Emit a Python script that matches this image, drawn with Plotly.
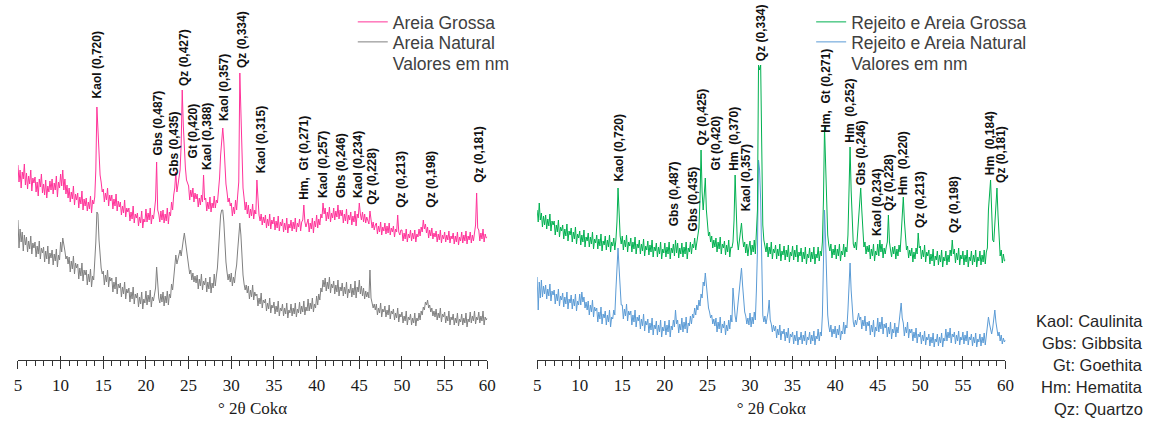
import plotly.graph_objects as go

# ---------------- data (intensity, arbitrary units; 0.125 deg steps, 5-60 deg) ----------------
TWO_THETA_START = 5.0
TWO_THETA_STEP = 0.125

areia_grossa = [
    195, 178, 190, 172, 188, 181, 196, 175,  # 5
    187, 171, 184, 176, 190, 169, 182, 177,  # 6
    183, 168, 178, 164, 181, 173, 186, 167,  # 7
    176, 165, 180, 162, 174, 168, 179, 170,  # 8
    181, 166, 177, 170, 184, 163, 178, 172,  # 9
    186, 174, 190, 170, 181, 166, 175, 162,  # 10
    172, 158, 168, 161, 174, 155, 166, 160,  # 11
    167, 152, 163, 156, 169, 150, 161, 154,  # 12
    162, 149, 158, 151, 164, 147, 160, 156,  # 13
    163, 190, 253, 232, 205, 185, 178, 168,  # 14
    171, 158, 167, 160, 172, 154, 165, 159,  # 15
    165, 151, 161, 154, 166, 149, 159, 153,  # 16
    158, 145, 154, 147, 160, 143, 152, 148,  # 17
    152, 139, 148, 141, 154, 137, 146, 142,  # 18
    147, 134, 143, 137, 149, 132, 141, 138,  # 19
    151, 138, 147, 140, 152, 136, 145, 141,  # 20
    150, 160, 198, 150, 146, 138, 149, 140,  # 21
    150, 137, 146, 139, 152, 136, 148, 144,  # 22
    158, 150, 165, 172, 188, 168, 175, 182,  # 23
    190, 215, 270, 235, 205, 192, 180, 176,  # 24
    174, 160, 170, 163, 172, 158, 167, 161,  # 25
    166, 153, 162, 155, 165, 158, 185, 160,  # 26
    162, 149, 158, 151, 163, 148, 157, 152,  # 27
    164, 152, 160, 157, 170, 182, 205, 222,  # 28
    232, 218, 192, 176, 168, 158, 162, 154,  # 29
    157, 144, 153, 146, 160, 150, 165, 178,  # 30
    287, 250, 200, 172, 162, 150, 158, 146,  # 31
    155, 142, 151, 144, 156, 141, 150, 146,  # 32
    180, 158, 145, 139, 146, 135, 143, 137,  # 33
    145, 132, 141, 134, 146, 131, 140, 136,  # 34
    143, 130, 139, 132, 144, 129, 138, 134,  # 35
    141, 128, 137, 130, 142, 127, 136, 132,  # 36
    140, 129, 138, 131, 142, 128, 137, 133,  # 37
    141, 129, 138, 140, 155, 138, 133, 137,  # 38
    141, 128, 137, 131, 142, 127, 139, 133,  # 39
    145, 132, 141, 135, 146, 142, 157, 146,  # 40
    152, 139, 148, 141, 153, 138, 147, 142,  # 41
    152, 140, 149, 143, 155, 141, 150, 144,  # 42
    150, 137, 146, 139, 151, 136, 145, 140,  # 43
    148, 135, 144, 138, 149, 134, 146, 142,  # 44
    157, 146, 140, 148, 138, 146, 137, 143,  # 45
    140, 136, 149, 137, 132, 138, 130, 135,  # 46
    137, 126, 134, 128, 138, 125, 133, 129,  # 47
    137, 126, 134, 127, 137, 125, 132, 128,  # 48
    134, 123, 131, 128, 145, 128, 125, 130,  # 49
    130, 119, 127, 121, 131, 118, 126, 122,  # 50
    130, 119, 127, 121, 130, 118, 126, 123,  # 51
    131, 124, 133, 128, 140, 131, 136, 127,  # 52
    133, 122, 130, 124, 132, 121, 127, 123,  # 53
    129, 118, 126, 120, 130, 117, 125, 121,  # 54
    128, 118, 125, 120, 129, 117, 124, 121,  # 55
    127, 116, 124, 118, 128, 115, 123, 119,  # 56
    128, 117, 125, 119, 129, 116, 124, 120,  # 57
    128, 117, 125, 119, 128, 135, 167, 132,  # 58
    130, 119, 127, 121, 131, 118, 126, 122,  # 59
    123,
]

areia_natural = [
    140, 112, 131, 118, 128, 109, 125, 115,  # 5
    123, 108, 119, 111, 124, 106, 117, 112,  # 6
    118, 103, 114, 106, 119, 101, 112, 107,  # 7
    113, 98, 109, 101, 114, 96, 107, 102,  # 8
    110, 95, 106, 99, 111, 93, 105, 100,  # 9
    118, 108, 122, 112, 109, 101, 104, 96,  # 10
    103, 88, 99, 91, 104, 86, 97, 92,  # 11
    96, 81, 92, 84, 97, 79, 90, 85,  # 12
    90, 75, 86, 78, 91, 73, 84, 80,  # 13
    95, 118, 148, 146, 120, 100, 92, 86,  # 14
    89, 75, 85, 78, 90, 73, 83, 79,  # 15
    82, 68, 78, 71, 83, 66, 76, 72,  # 16
    77, 63, 73, 66, 78, 61, 71, 67,  # 17
    72, 58, 68, 61, 73, 56, 66, 62,  # 18
    67, 53, 63, 56, 68, 51, 61, 57,  # 19
    69, 55, 65, 58, 70, 53, 63, 59,  # 20
    68, 72, 93, 70, 62, 57, 66, 58,  # 21
    68, 54, 64, 57, 69, 55, 66, 62,  # 22
    76, 70, 84, 92, 105, 96, 102, 108,  # 23
    110, 104, 115, 120, 127, 118, 110, 100,  # 24
    97, 86, 90, 80, 87, 78, 84, 77,  # 25
    85, 71, 81, 74, 86, 70, 79, 75,  # 26
    82, 68, 78, 71, 83, 67, 77, 72,  # 27
    86, 74, 84, 92, 110, 128, 145, 150,  # 28
    150, 138, 115, 98, 88, 80, 86, 78,  # 29
    87, 74, 83, 77, 88, 95, 110, 128,  # 30
    137, 125, 100, 85, 76, 70, 75, 67,  # 31
    74, 61, 70, 63, 75, 60, 68, 64,  # 32
    66, 54, 62, 56, 67, 52, 60, 57,  # 33
    61, 49, 57, 51, 62, 47, 55, 52,  # 34
    58, 46, 54, 48, 59, 44, 52, 49,  # 35
    56, 44, 52, 46, 57, 42, 50, 47,  # 36
    56, 44, 52, 46, 57, 43, 51, 47,  # 37
    58, 46, 54, 48, 59, 45, 53, 49,  # 38
    61, 49, 57, 51, 62, 48, 56, 52,  # 39
    64, 55, 66, 60, 72, 68, 80, 73,  # 40
    82, 69, 78, 71, 83, 67, 76, 72,  # 41
    79, 66, 75, 68, 80, 64, 73, 69,  # 42
    77, 64, 73, 66, 78, 62, 71, 67,  # 43
    76, 63, 72, 65, 79, 62, 73, 68,  # 44
    80, 66, 74, 64, 72, 61, 69, 63,  # 45
    68, 62, 90, 62, 57, 52, 56, 50,  # 46
    56, 45, 52, 47, 57, 43, 51, 48,  # 47
    54, 43, 50, 45, 55, 41, 49, 46,  # 48
    51, 40, 47, 42, 52, 38, 46, 43,  # 49
    48, 37, 44, 39, 49, 35, 43, 40,  # 50
    46, 35, 42, 37, 47, 34, 42, 39,  # 51
    47, 40, 49, 45, 53, 50, 58, 55,  # 52
    60, 52, 55, 48, 52, 44, 49, 43,  # 53
    51, 40, 47, 42, 52, 38, 46, 43,  # 54
    48, 37, 44, 39, 49, 35, 43, 40,  # 55
    46, 35, 42, 37, 47, 34, 41, 38,  # 56
    46, 35, 42, 37, 47, 33, 41, 38,  # 57
    48, 37, 44, 39, 49, 36, 43, 40,  # 58
    48, 37, 44, 39, 49, 35, 43, 40,  # 59
    42,
]

rejeito_areia_grossa = [
    150, 138, 157, 140, 147, 133, 144, 135,  # 5
    145, 131, 141, 134, 146, 129, 139, 135,  # 6
    139, 125, 135, 128, 140, 123, 133, 129,  # 7
    135, 121, 131, 124, 136, 119, 129, 125,  # 8
    132, 118, 128, 121, 133, 116, 126, 122,  # 9
    129, 115, 125, 118, 130, 113, 123, 119,  # 10
    127, 113, 123, 116, 128, 111, 121, 117,  # 11
    125, 111, 121, 114, 126, 109, 119, 115,  # 12
    124, 110, 120, 113, 125, 108, 118, 114,  # 13
    122, 110, 120, 138, 172, 140, 124, 116,  # 14
    124, 110, 120, 113, 125, 108, 118, 114,  # 15
    122, 108, 118, 111, 123, 106, 116, 112,  # 16
    120, 106, 116, 109, 121, 104, 114, 110,  # 17
    119, 105, 115, 108, 120, 103, 113, 109,  # 18
    117, 103, 113, 106, 118, 101, 111, 107,  # 19
    117, 103, 113, 106, 118, 101, 112, 107,  # 20
    116, 104, 120, 107, 117, 102, 112, 106,  # 21
    117, 103, 113, 106, 118, 101, 112, 108,  # 22
    118, 106, 116, 112, 122, 110, 118, 124,  # 23
    132, 160, 210, 168, 150, 165, 182, 150,  # 24
    135, 124, 128, 118, 124, 112, 120, 113,  # 25
    122, 108, 118, 111, 123, 106, 116, 112,  # 26
    119, 105, 115, 108, 120, 103, 113, 112,  # 27
    118, 140, 185, 138, 120, 110, 118, 124,  # 28
    137, 122, 113, 118, 107, 116, 104, 113,  # 29
    119, 105, 115, 108, 120, 106, 125, 150,  # 30
    295, 290, 295, 180, 135, 120, 115, 108,  # 31
    117, 103, 113, 106, 118, 101, 111, 107,  # 32
    115, 101, 111, 104, 116, 99, 109, 105,  # 33
    114, 100, 110, 103, 115, 98, 108, 104,  # 34
    114, 100, 110, 103, 115, 98, 108, 104,  # 35
    112, 98, 108, 101, 113, 96, 106, 102,  # 36
    112, 98, 108, 101, 113, 96, 106, 102,  # 37
    113, 99, 109, 104, 118, 160, 233, 200,  # 38
    150, 125, 115, 109, 116, 102, 111, 105,  # 39
    115, 101, 111, 104, 116, 99, 109, 105,  # 40
    116, 103, 113, 108, 125, 160, 213, 170,  # 41
    130, 116, 112, 118, 110, 125, 150, 165,  # 42
    172, 150, 125, 113, 118, 106, 114, 108,  # 43
    115, 101, 111, 104, 116, 99, 109, 105,  # 44
    116, 104, 120, 108, 116, 102, 112, 106,  # 45
    113, 118, 145, 118, 110, 103, 113, 106,  # 46
    114, 101, 111, 104, 115, 108, 125, 140,  # 47
    163, 140, 120, 110, 114, 102, 110, 104,  # 48
    112, 98, 108, 101, 112, 106, 127, 112,  # 49
    114, 101, 110, 103, 115, 98, 108, 104,  # 50
    110, 96, 106, 99, 111, 94, 104, 100,  # 51
    109, 95, 105, 98, 110, 93, 103, 99,  # 52
    109, 95, 105, 98, 110, 104, 120, 106,  # 53
    111, 97, 107, 100, 112, 95, 105, 101,  # 54
    109, 95, 105, 98, 110, 93, 103, 99,  # 55
    109, 95, 105, 98, 110, 93, 103, 99,  # 56
    109, 95, 105, 98, 110, 96, 108, 112,  # 57
    150, 165, 180, 150, 120, 118, 135, 155,  # 58
    172, 145, 118, 104, 110, 97, 106, 99,  # 59
    100,
]

rejeito_areia_natural = [
    83, 50, 78, 62, 80, 63, 74, 66,  # 5
    75, 61, 71, 64, 76, 59, 69, 65,  # 6
    70, 56, 66, 59, 71, 54, 64, 60,  # 7
    67, 53, 63, 56, 68, 51, 61, 57,  # 8
    65, 51, 61, 54, 66, 49, 59, 55,  # 9
    66, 55, 68, 58, 63, 52, 58, 50,  # 10
    59, 45, 55, 48, 60, 43, 53, 49,  # 11
    52, 38, 48, 41, 53, 36, 46, 42,  # 12
    49, 35, 45, 38, 50, 33, 43, 41,  # 13
    50, 45, 70, 95, 112, 92, 68, 55,  # 14
    55, 41, 51, 44, 56, 39, 49, 45,  # 15
    49, 35, 45, 38, 50, 33, 43, 39,  # 16
    45, 31, 41, 34, 46, 29, 39, 35,  # 17
    41, 27, 37, 30, 42, 25, 35, 31,  # 18
    39, 25, 35, 28, 40, 23, 33, 29,  # 19
    39, 25, 35, 28, 40, 23, 34, 30,  # 20
    40, 33, 50, 36, 40, 27, 36, 30,  # 21
    42, 28, 38, 31, 43, 27, 37, 34,  # 22
    44, 36, 46, 42, 52, 45, 55, 50,  # 23
    60, 54, 66, 62, 78, 74, 87, 75,  # 24
    60, 52, 48, 42, 45, 36, 41, 34,  # 25
    42, 28, 38, 31, 43, 27, 36, 32,  # 26
    39, 25, 35, 29, 40, 31, 45, 38,  # 27
    72, 52, 44, 38, 50, 58, 72, 85,  # 28
    92, 75, 58, 48, 44, 36, 42, 35,  # 29
    47, 33, 43, 36, 48, 40, 70, 110,  # 30
    200, 190, 160, 80, 45, 38, 44, 36,  # 31
    42, 48, 60, 40, 36, 28, 35, 29,  # 32
    34, 22, 31, 25, 35, 20, 29, 26,  # 33
    31, 19, 28, 22, 32, 17, 26, 23,  # 34
    28, 16, 25, 19, 29, 15, 23, 20,  # 35
    28, 16, 25, 19, 29, 15, 23, 20,  # 36
    28, 16, 25, 19, 29, 15, 24, 21,  # 37
    31, 19, 28, 24, 45, 90, 150, 120,  # 38
    70, 45, 34, 28, 35, 23, 31, 26,  # 39
    34, 22, 31, 25, 35, 20, 29, 26,  # 40
    38, 26, 35, 32, 50, 75, 97, 70,  # 41
    50, 38, 33, 40, 35, 42, 47, 40,  # 42
    43, 31, 40, 34, 44, 29, 38, 34,  # 43
    39, 25, 35, 28, 40, 23, 33, 29,  # 44
    42, 28, 38, 31, 43, 26, 36, 32,  # 45
    37, 23, 33, 26, 38, 21, 31, 27,  # 46
    37, 23, 33, 27, 38, 42, 57, 42,  # 47
    37, 24, 33, 27, 38, 22, 31, 27,  # 48
    31, 19, 28, 22, 32, 17, 26, 23,  # 49
    28, 16, 25, 19, 29, 15, 23, 20,  # 50
    26, 14, 23, 17, 27, 13, 21, 18,  # 51
    26, 14, 23, 17, 27, 13, 22, 19,  # 52
    31, 19, 28, 22, 32, 17, 26, 23,  # 53
    28, 16, 25, 19, 29, 15, 23, 20,  # 54
    28, 16, 25, 19, 29, 15, 23, 20,  # 55
    26, 14, 23, 17, 27, 13, 21, 18,  # 56
    26, 14, 23, 17, 27, 15, 24, 30,  # 57
    43, 36, 30, 26, 32, 40, 50, 38,  # 58
    32, 24, 28, 19, 25, 16, 22, 18,  # 59
    20,
]

two_theta = [TWO_THETA_START + i * TWO_THETA_STEP for i in range(len(areia_grossa))]

# peak labels: text, 2theta position, intensity at the label base
left_labels = ["Kaol (0,720)", "Gbs (0,487)", "Gbs (0,435)", "Qz (0,427)", "Gt (0,420)",
               "Kaol (0,388)", "Kaol (0,357)", "Qz (0,334)", "Kaol (0,315)", "Hm,  Gt (0,271)",
               "Kaol (0,257)", "Gbs (0,246)", "Kaol (0,234)", "Qz (0,228)", "Qz (0,213)",
               "Qz (0,198)", "Qz (0,181)"]
left_label_pos = [14.25, 21.4, 23.25, 24.4, 25.5, 27.1, 29.1, 31.2, 33.45, 38.5,
                  40.7, 42.8, 44.8, 46.4, 49.8, 53.3, 58.95]
left_label_int = [260, 203, 182, 272, 200, 188, 237, 290, 185, 158,
                  160, 160, 160, 153, 150, 150, 175]

right_labels = ["Kaol (0,720)", "Gbs (0,487)", "Gbs (0,435)", "Qz (0,425)", "Gt (0,420)",
                "Hm  (0,370)", "Kaol (0,357)", "Qz (0,334)", "Hm,  Gt (0,271)", "Hm  (0,252)",
                "Gbs (0,246)", "Kaol (0,234)", "Qz (0,228)", "Hm  (0,220)", "Qz (0,213)",
                "Qz (0,198)", "Hm  (0,184)", "Qz (0,181)"]
right_label_pos = [14.6, 21.05, 23.3, 24.35, 25.9, 28.1, 29.5, 31.25, 38.9, 41.7,
                   43.0, 44.85, 46.25, 48.0, 49.9, 53.9, 58.2, 59.4]
right_label_int = [177, 132, 127, 213, 187, 187, 147, 297, 225, 215,
                   173, 122, 147, 163, 130, 125, 183, 175]

mineral_abbr = ["Kaol", "Gbs", "Gt", "Hm", "Qz"]
mineral_name = ["Caulinita", "Gibbsita", "Goethita", "Hematita", "Quartzo"]

# ---------------- styling ----------------
PINK = "#FF3399"
GRAY = "#808080"
GREEN = "#00B050"
BLUE = "#5B9BD5"
AXIS_COLOR = "#333333"
SERIF = "Liberation Serif, Times New Roman, serif"
SANS = "Liberation Sans, Arial, sans-serif"

W, H = 1152, 421
EFF_W = 1143          # horizontal extent that paper coordinates map onto in the rendered page
BOTTOM = 61
PLOT_H = H - BOTTOM
LEFT_DOM = [14 / EFF_W, 485 / EFF_W]
RIGHT_DOM = [535 / EFF_W, 1005 / EFF_W]
LEGEND_ROWS = [22, 42, 63]
LINE_W = 1.0

fig = go.Figure()

fig.add_trace(go.Scatter(x=two_theta, y=areia_natural, mode="lines", name="Areia Natural",
                         line=dict(color=GRAY, width=LINE_W), xaxis="x", yaxis="y",
                         legend="legend2"))
fig.add_trace(go.Scatter(x=two_theta, y=areia_grossa, mode="lines", name="Areia Grossa",
                         line=dict(color=PINK, width=LINE_W), xaxis="x", yaxis="y",
                         legend="legend"))
fig.add_trace(go.Scatter(x=[None], y=[None], mode="lines", name="Valores em nm",
                         line=dict(color="rgba(0,0,0,0)", width=0), xaxis="x", yaxis="y",
                         legend="legend3"))

fig.add_trace(go.Scatter(x=two_theta, y=rejeito_areia_natural, mode="lines",
                         name="Rejeito e Areia Natural",
                         line=dict(color=BLUE, width=LINE_W), xaxis="x2", yaxis="y2",
                         legend="legend5"))
fig.add_trace(go.Scatter(x=two_theta, y=rejeito_areia_grossa, mode="lines",
                         name="Rejeito e Areia Grossa",
                         line=dict(color=GREEN, width=LINE_W), xaxis="x2", yaxis="y2",
                         legend="legend4"))
fig.add_trace(go.Scatter(x=[None], y=[None], mode="lines", name="Valores em nm",
                         line=dict(color="rgba(0,0,0,0)", width=0), xaxis="x2", yaxis="y2",
                         legend="legend6"))

# invisible traces to activate overlay axes (upper part of the major ticks)
fig.add_trace(go.Scatter(x=[None], y=[None], xaxis="x3", yaxis="y", showlegend=False,
                         hoverinfo="skip"))
fig.add_trace(go.Scatter(x=[None], y=[None], xaxis="x4", yaxis="y2", showlegend=False,
                         hoverinfo="skip"))


def xaxis_main(domain, anchor):
    return dict(
        domain=domain, anchor=anchor, range=[5, 60],
        tick0=5, dtick=5, ticks="outside", ticklen=8, tickwidth=1.3, tickcolor=AXIS_COLOR,
        showline=True, linecolor=AXIS_COLOR, linewidth=1.3,
        showgrid=False, zeroline=False,
        tickfont=dict(family=SERIF, size=17, color="#1a1a1a"),
        ticklabelstandoff=1,
        minor=dict(tick0=5, dtick=1, ticks="outside", ticklen=5, tickwidth=1,
                   tickcolor=AXIS_COLOR, showgrid=False),
        title=dict(text="° 2θ Cokα", font=dict(family=SERIF, size=17, color="#1a1a1a"),
                   standoff=8),
    )


def xaxis_overlay(over, anchor):
    return dict(
        overlaying=over, anchor=anchor, range=[5, 60],
        tick0=5, dtick=5, ticks="inside", ticklen=4, tickwidth=1.3, tickcolor=AXIS_COLOR,
        showline=False, showgrid=False, zeroline=False, showticklabels=False,
    )


yaxis_common = dict(range=[0, 360], domain=[0, 1], visible=False, showgrid=False,
                    zeroline=False)

label_font = dict(family=SANS, size=12, color="#111111", weight="bold")
annotations = []
for txt, pos, inten in zip(left_labels, left_label_pos, left_label_int):
    annotations.append(dict(text=txt, x=pos, y=inten, xref="x", yref="y",
                            textangle=-90, showarrow=False, xanchor="center",
                            yanchor="bottom", font=label_font))
for txt, pos, inten in zip(right_labels, right_label_pos, right_label_int):
    annotations.append(dict(text=txt, x=pos, y=inten, xref="x2", yref="y2",
                            textangle=-90, showarrow=False, xanchor="center",
                            yanchor="bottom", font=label_font))

for i, (ab, nm) in enumerate(zip(mineral_abbr, mineral_name)):
    ypix = 321 + 22 * i
    annotations.append(dict(text=f"{ab}: {nm}", x=1145 / EFF_W, y=(PLOT_H - ypix) / PLOT_H,
                            xref="paper", yref="paper", xanchor="right", yanchor="middle",
                            showarrow=False,
                            font=dict(family=SANS, size=16.5, color="#262626")))


def legend_at(xpix, ypix):
    return dict(x=xpix / EFF_W, y=(PLOT_H - ypix) / PLOT_H, xanchor="left",
                yanchor="middle", bgcolor="rgba(0,0,0,0)", borderwidth=0, itemwidth=30,
                font=dict(family=SANS, size=17.5, color="#404040"))


fig.update_layout(
    width=W, height=H, autosize=False,
    margin=dict(l=0, r=0, t=0, b=BOTTOM, pad=0),
    paper_bgcolor="white", plot_bgcolor="white",
    xaxis=xaxis_main(LEFT_DOM, "y"),
    xaxis2=xaxis_main(RIGHT_DOM, "y2"),
    xaxis3=xaxis_overlay("x", "y"),
    xaxis4=xaxis_overlay("x2", "y2"),
    yaxis=dict(yaxis_common, anchor="x"),
    yaxis2=dict(yaxis_common, anchor="x2"),
    legend=legend_at(350, LEGEND_ROWS[0]),
    legend2=legend_at(350, LEGEND_ROWS[1]),
    legend3=legend_at(350, LEGEND_ROWS[2]),
    legend4=legend_at(810, LEGEND_ROWS[0]),
    legend5=legend_at(810, LEGEND_ROWS[1]),
    legend6=legend_at(810, LEGEND_ROWS[2]),
    annotations=annotations,
    showlegend=True,
)

fig.write_html("out.html", config={"displayModeBar": False},
               post_script="document.body.style.margin='0';")
